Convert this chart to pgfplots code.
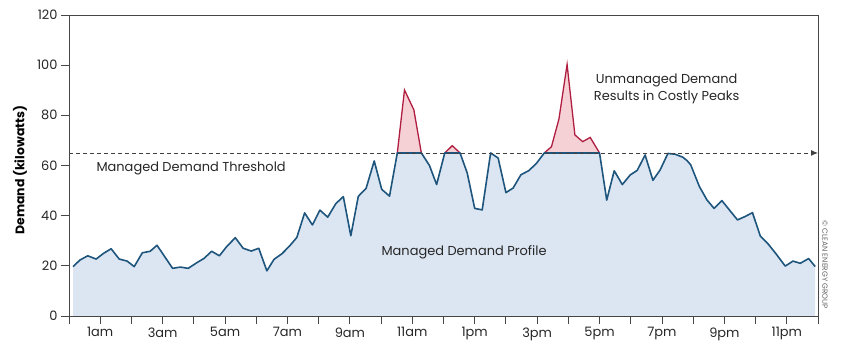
\documentclass[border=0pt]{standalone}
\usepackage{fontspec}
\setmainfont{Poppins}
\usepackage{pgfplots}
\pgfplotsset{compat=1.18}
\usepackage{pgfplotstable}
\usetikzlibrary{arrows.meta}
\definecolor{areablue}{RGB}{220,230,242}
\definecolor{lineblue}{RGB}{30,85,125}
\definecolor{peakred}{RGB}{175,30,65}
\definecolor{peakfill}{RGB}{245,208,212}
\definecolor{axisgray}{RGB}{70,70,70}

% x = hour of day, m = managed demand (kW)
\pgfplotstableread{
x m
0.13 19.7
0.35 22.3
0.60 24.0
0.87 22.7
1.11 25.0
1.35 26.8
1.61 22.7
1.86 21.9
2.09 19.7
2.35 25.2
2.60 25.8
2.82 28.2
3.07 23.6
3.32 19.0
3.57 19.5
3.82 19.0
4.09 21.2
4.33 23.0
4.57 25.8
4.82 24.0
5.06 27.8
5.33 31.2
5.58 27.0
5.84 25.9
6.08 27.0
6.34 18.0
6.57 22.6
6.82 24.8
7.06 27.8
7.30 31.3
7.55 41.1
7.80 36.3
8.04 42.2
8.29 39.4
8.55 44.8
8.79 47.6
9.03 32.0
9.27 47.7
9.52 50.9
9.78 61.8
10.02 50.5
10.27 47.8
10.52 65.0
10.75 65.0
11.05 65.0
11.29 65.0
11.55 60.0
11.78 52.4
12.04 65.0
12.28 65.0
12.53 65.0
12.76 57.0
13.00 42.9
13.24 42.3
13.51 65.0
13.75 63.0
14.00 49.2
14.23 51.0
14.48 56.3
14.74 58.0
14.98 60.9
15.23 65.0
15.46 65.0
15.70 65.0
15.96 65.0
16.21 65.0
16.46 65.0
16.70 65.0
17.00 65.0
17.23 46.2
17.47 57.9
17.73 52.4
17.98 56.2
18.21 58.1
18.46 64.2
18.71 54.1
18.94 58.2
19.19 64.8
19.42 64.5
19.67 63.3
19.80 62.0
19.92 60.3
20.20 51.6
20.44 46.3
20.67 42.9
20.92 46.0
21.16 42.3
21.42 38.3
21.67 39.7
21.90 41.2
22.15 31.9
22.41 28.6
22.66 24.7
22.95 19.9
23.20 21.9
23.43 21.0
23.70 22.9
23.91 19.7
}\managed

\begin{document}
\begin{tikzpicture}
\path[use as bounding box] (-69bp,-39bp) rectangle (781bp,316bp);
\begin{axis}[
  at={(0,0)}, anchor=south west,
  scale only axis, width=749bp, height=301bp,
  xmin=0, xmax=24, ymin=0, ymax=120,
  xtick={0,...,24},
  xticklabels={,1am,,3am,,5am,,7am,,9am,,11am,,1pm,,3pm,,5pm,,7pm,,9pm,,11pm,},
  ytick={0,20,40,60,80,100,120},
  tick align=outside, tick pos=left,
  major tick length=8bp,
  axis line style={axisgray, line width=0.9bp},
  tick style={axisgray, line width=0.9bp},
  tick label style={font=\fontsize{13}{15}\selectfont, text=black!85},
  /pgf/number format/assume math mode=true,
  ylabel={\bfseries Demand (kilowatts)},
  ylabel style={font=\fontsize{12.5}{15}\selectfont, at={(axis description cs:-0.0654,0.485)}, anchor=center},
  clip=false,
  axis on top,
]
% managed demand area
\addplot[draw=none, fill=areablue] table[x=x, y=m] {\managed} \closedcycle;
% unmanaged peaks
\addplot[draw=peakred, line width=1.3bp, fill=peakfill] coordinates {(10.52,65) (10.75,90.1) (11.05,82.2) (11.29,65)};
\addplot[draw=peakred, line width=1.3bp, fill=peakfill] coordinates {(12.04,65) (12.28,67.9) (12.53,65)};
\addplot[draw=peakred, line width=1.3bp, fill=peakfill] coordinates {(15.23,65) (15.46,67.5) (15.70,78.6) (15.96,100.3) (16.21,72.2) (16.46,69.5) (16.70,71.2) (17.00,65)};
% managed demand line
\addplot[draw=lineblue, line width=1.6bp, line join=round] table[x=x, y=m] {\managed};
% threshold
\addplot[draw=black!75, line width=0.9bp, dash pattern=on 4bp off 3bp, -{Latex[length=7bp,width=6bp]}] coordinates {(0,65) (24,65)};
\node[anchor=west, font=\fontsize{13}{15}\selectfont, text=black!85] at (axis cs:0.77,59) {Managed Demand Threshold};
\node[font=\fontsize{13}{15}\selectfont, text=black!85] at (axis cs:12.66,25.5) {Managed Demand Profile};
\node[align=center, font=\fontsize{13}{17.7}\selectfont, text=black!85] at (axis cs:19.15,90.5) {Unmanaged Demand\\Results in Costly Peaks};
\node[rotate=-90, font=\fontsize{7.5}{9}\selectfont, text=black!60] at ([xshift=7bp]axis cs:24,20.3) {© CLEAN ENERGY GROUP};
\end{axis}
\end{tikzpicture}
\end{document}
